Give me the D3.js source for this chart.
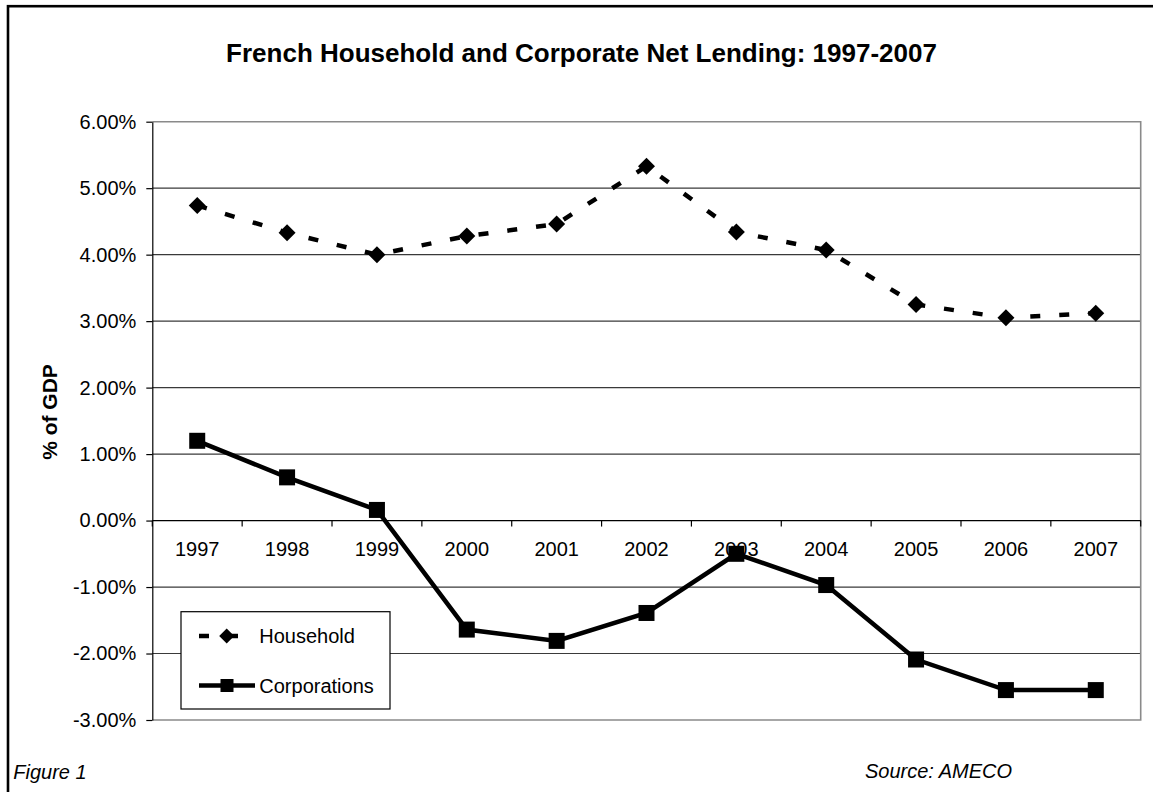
<!DOCTYPE html>
<html>
<head>
<meta charset="utf-8">
<script src="https://cdn.jsdelivr.net/npm/d3@7/dist/d3.min.js"></script>
<style>
  html, body { margin: 0; padding: 0; background: #fff; }
  svg { display: block; font-family: "Liberation Sans", Arial, sans-serif; }
</style>
</head>
<body>
<svg id="chart" width="1153" height="792"></svg>
<script>
// Net lending by sector, % of GDP
const years = ["1997", "1998", "1999", "2000", "2001", "2002", "2003", "2004", "2005", "2006", "2007"];
const household = [4.74, 4.33, 4.00, 4.28, 4.46, 5.33, 4.34, 4.07, 3.25, 3.05, 3.12];
const corporations = [1.20, 0.65, 0.16, -1.64, -1.81, -1.39, -0.50, -0.97, -2.09, -2.55, -2.55];
const yTicks = [6, 5, 4, 3, 2, 1, 0, -1, -2, -3];
const seriesNames = ["Household", "Corporations"];

const svg = d3.select("#chart");
const W = 1153, H = 792;
const plot = { left: 152.3, right: 1140.7, top: 121.7, bottom: 720 };

// Outer chart frame (runs off the right and bottom edges)
svg.append("rect")
  .attr("x", 8).attr("y", 6.2)
  .attr("width", 1300).attr("height", 900)
  .attr("fill", "none").attr("stroke", "#000").attr("stroke-width", 2.6);

const x = d3.scaleBand().domain(years).range([plot.left, plot.right]).paddingInner(0).paddingOuter(0);
const y = d3.scaleLinear().domain([-3, 6]).range([plot.bottom, plot.top]);
const cx = d => x(d) + x.bandwidth() / 2;

const locale = d3.formatLocale({ decimal: ".", thousands: ",", grouping: [3], currency: ["", ""], minus: "-" });
const pct = v => locale.format(".2f")(v) + "%";

// Horizontal gridlines
svg.append("g").selectAll("line")
  .data(yTicks.filter(v => v !== 0 && v !== 6 && v !== -3))
  .join("line")
  .attr("x1", plot.left).attr("x2", plot.right)
  .attr("y1", d => y(d)).attr("y2", d => y(d))
  .attr("stroke", "#3a3a3a").attr("stroke-width", 1.2);

// Plot area border (top, right, bottom)
svg.append("path")
  .attr("d", `M${plot.left},${plot.top}H${plot.right}V${plot.bottom}H${plot.left}`)
  .attr("fill", "none").attr("stroke", "#8a8a8a").attr("stroke-width", 1.6);

// Y axis
const yAxis = d3.axisLeft(y).tickValues(yTicks).tickSize(6).tickSizeOuter(0).tickPadding(10).tickFormat(pct);
const gy = svg.append("g").attr("transform", `translate(${plot.left},0)`).call(yAxis);
gy.select(".domain").attr("stroke", "#000").attr("stroke-width", 1.2);
gy.selectAll(".tick line").attr("stroke", "#000").attr("stroke-width", 1.2);
gy.selectAll(".tick text").attr("font-size", 20).attr("fill", "#000")
  .attr("font-family", "Liberation Sans, Arial, sans-serif");

// X axis along zero: labels at category centers, ticks at category boundaries
const xAxis = d3.axisBottom(x).tickSize(0).tickPadding(21);
const gx = svg.append("g").attr("transform", `translate(0,${y(0)})`).call(xAxis);
gx.select(".domain").remove();
gx.selectAll(".tick text").attr("font-size", 20).attr("fill", "#000")
  .attr("font-family", "Liberation Sans, Arial, sans-serif");
svg.append("line")
  .attr("x1", plot.left).attr("x2", plot.right)
  .attr("y1", y(0)).attr("y2", y(0))
  .attr("stroke", "#000").attr("stroke-width", 1.2);
svg.append("g").selectAll("line")
  .data(years.map(d => x(d)).concat([plot.right]))
  .join("line")
  .attr("x1", d => d).attr("x2", d => d)
  .attr("y1", y(0)).attr("y2", y(0) + 6)
  .attr("stroke", "#000").attr("stroke-width", 1.2);

// Series lines
const line = d3.line().x((d, i) => cx(years[i])).y(d => y(d));

svg.append("path").datum(household)
  .attr("d", line)
  .attr("fill", "none").attr("stroke", "#000").attr("stroke-width", 4.5)
  .attr("stroke-dasharray", "10,19");

svg.append("path").datum(corporations)
  .attr("d", line)
  .attr("fill", "none").attr("stroke", "#000").attr("stroke-width", 4.5)
  .attr("stroke-linejoin", "miter");

// Markers
const diamond = r => `M0,${-r}L${r},0L0,${r}L${-r},0Z`;
svg.append("g").selectAll("path")
  .data(household)
  .join("path")
  .attr("d", diamond(8.5))
  .attr("transform", (d, i) => `translate(${cx(years[i])},${y(d)})`)
  .attr("fill", "#000");

svg.append("g").selectAll("rect")
  .data(corporations)
  .join("rect")
  .attr("x", (d, i) => cx(years[i]) - 8)
  .attr("y", d => y(d) - 8)
  .attr("width", 16).attr("height", 16)
  .attr("fill", "#000");

// Legend
const lg = svg.append("g");
lg.append("rect")
  .attr("x", 181).attr("y", 611.7).attr("width", 209).attr("height", 97.3)
  .attr("fill", "#fff").attr("stroke", "#000").attr("stroke-width", 1.2);
const rows = [636, 685.5];
lg.append("line")
  .attr("x1", 199).attr("x2", 254).attr("y1", rows[0]).attr("y2", rows[0])
  .attr("stroke", "#000").attr("stroke-width", 4.5).attr("stroke-dasharray", "10,19");
lg.append("path").attr("d", diamond(7.5)).attr("transform", `translate(226.7,${rows[0]})`).attr("fill", "#000");
lg.append("line")
  .attr("x1", 199).attr("x2", 255).attr("y1", rows[1]).attr("y2", rows[1])
  .attr("stroke", "#000").attr("stroke-width", 4.5);
lg.append("rect").attr("x", 220.5).attr("y", rows[1] - 6.5).attr("width", 13).attr("height", 13).attr("fill", "#000");
lg.selectAll("text.lab")
  .data(seriesNames)
  .join("text")
  .attr("class", "lab")
  .attr("x", 259.3).attr("y", (d, i) => rows[i] + 7.2)
  .attr("font-size", 20).attr("fill", "#000")
  .text(d => d);

// Title
svg.append("text")
  .attr("x", 581.5).attr("y", 61.7)
  .attr("text-anchor", "middle")
  .attr("font-size", 26).attr("font-weight", "bold")
  .text("French Household and Corporate Net Lending: 1997-2007");

// Y axis title
svg.append("text")
  .attr("transform", "translate(57,412) rotate(-90)")
  .attr("text-anchor", "middle")
  .attr("font-size", 21).attr("font-weight", "bold")
  .text("% of GDP");

// Footer notes
svg.append("text")
  .attr("x", 13.3).attr("y", 779)
  .attr("font-size", 20).attr("font-style", "italic")
  .text("Figure 1");
svg.append("text")
  .attr("x", 865).attr("y", 778)
  .attr("font-size", 20).attr("font-style", "italic")
  .text("Source: AMECO");
</script>
</body>
</html>
